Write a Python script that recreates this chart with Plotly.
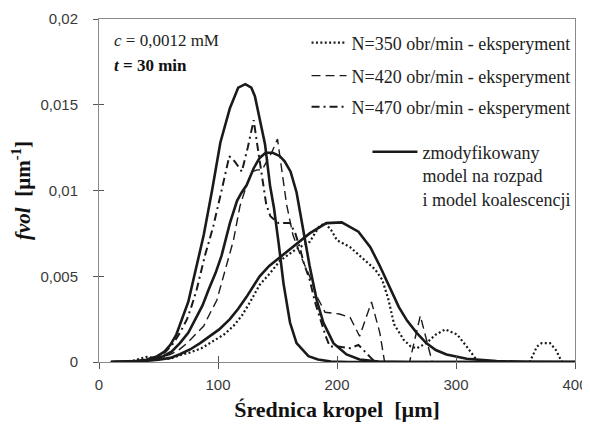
import plotly.graph_objects as go

# ---------------- data ----------------
x_ticks = [0, 100, 200, 300, 400]
x_tick_labels = ["0", "100", "200", "300", "400"]
y_ticks = [0, 0.005, 0.01, 0.015, 0.02]
y_tick_labels = ["0", "0,005", "0,01", "0,015", "0,02"]

# experiment N=350 (dotted)
exp350_x = [10, 20, 30, 40, 50, 60, 68, 76, 86, 96, 105, 113, 120, 127, 135, 144, 152, 166, 177,
            185, 190, 195, 200, 211, 222, 232, 238, 243, 248, 256, 262, 267, 275, 283, 291, 301,
            309, 317, 320, 362, 368, 372, 379, 384, 389, 400]
exp350_y = [0, 0.00001, 0.0001, 0.0003, 0.0002, 0.0002, 0.0004, 0.00054, 0.0008, 0.0012, 0.0016,
            0.0021, 0.0027, 0.0035, 0.0045, 0.0052, 0.0059, 0.0066, 0.0070, 0.0079, 0.0081, 0.0077,
            0.0071, 0.0067, 0.0060, 0.0054, 0.0048, 0.0037, 0.0022, 0.0013, 0.0009, 0.0008, 0.0011,
            0.0016, 0.0019, 0.0016, 0.0009, 0.00015, 0, 0, 0.0009, 0.0011, 0.0011, 0.0007, 0, 0]

# experiment N=420 (dashed)
exp420_x = [10, 25, 35, 45, 52, 60, 67, 74, 81, 88, 93, 99, 103, 107, 113, 118.5, 124, 129, 133,
            137, 141, 145, 150, 153.5, 157.6, 163, 170, 177, 184, 190, 202, 211, 219, 229, 236, 240,
            261, 270, 280, 400]
exp420_y = [0, 0.00002, 0.00005, 0.00012, 0.00025, 0.00044, 0.0007, 0.0011, 0.0016, 0.0021, 0.0028,
            0.0036, 0.0046, 0.0056, 0.0071, 0.0091, 0.0103, 0.0111, 0.0112, 0.0112, 0.0117, 0.0122,
            0.0130, 0.0113, 0.0092, 0.0074, 0.0061, 0.0050, 0.0037, 0.0029, 0.0028, 0.0026, 0.0015,
            0.0035, 0.0017, 0, 0, 0.0027, 0, 0]

# experiment N=470 (dash-dot)
exp470_x = [10, 25, 35, 43, 50, 56, 62.5, 68, 74, 78, 82, 89, 96, 103, 109.5, 114, 120, 125, 130,
            132.5, 135, 138, 140.5, 144, 150.7, 160.5, 165, 169, 172, 177, 181.5, 186, 190.5, 194,
            201, 211, 218, 227.7, 232, 400]
exp470_y = [0, 0.00002, 0.00008, 0.0002, 0.00034, 0.0006, 0.0011, 0.0017, 0.0025, 0.0033, 0.0042,
            0.0062, 0.0079, 0.0100, 0.0120, 0.0117, 0.0111, 0.0125, 0.0141, 0.0129, 0.0117, 0.0103,
            0.0092, 0.0085, 0.0081, 0.0081, 0.0075, 0.0066, 0.0058, 0.0048, 0.0035, 0.0025, 0.0015,
            0.0009, 0.0009, 0.0008, 0.0010, 0.0003, 0, 0]

# model curves (solid)
modelA_x = [10, 20, 30, 40, 48, 55, 60, 65, 70, 75, 80, 88, 95, 102, 110, 117, 123, 128, 131, 135,
            139.5, 143.7, 147, 151, 155, 160.5, 166, 176, 184, 195, 210, 300, 400]
modelA_y = [0, 0.00001, 0.00004, 0.00013, 0.0003, 0.0006, 0.0010, 0.0016, 0.0025, 0.0035, 0.0050,
            0.0074, 0.0100, 0.0128, 0.0148, 0.0160, 0.0162, 0.0160, 0.0155, 0.0142, 0.0127, 0.0103,
            0.0090, 0.0069, 0.0046, 0.0023, 0.0011, 0.00034, 0.00015, 0.00003, 0, 0, 0]

modelB_x = [10, 20, 30, 40, 47, 54, 61, 68, 75, 81, 87, 92, 98, 103, 110, 116, 120, 124, 130, 135,
            140, 146, 152, 156, 161, 166, 172, 177, 183, 188.5, 197, 208, 219, 235, 260, 400]
modelB_y = [0, 0.00001, 0.00003, 0.0001, 0.0002, 0.00034, 0.0006, 0.0011, 0.0017, 0.0025, 0.0033,
            0.0042, 0.0052, 0.0062, 0.0081, 0.0094, 0.0099, 0.0103, 0.0113, 0.0119, 0.0122, 0.0122,
            0.0120, 0.0117, 0.0111, 0.0099, 0.0075, 0.0056, 0.0036, 0.0023, 0.0011, 0.00044,
            0.00015, 0.00003, 0, 0]

modelC_x = [10, 20, 30, 40, 50, 60, 68, 76.5, 85, 93, 101, 110, 117, 124, 130, 135, 143, 152, 165,
            177, 191, 204, 218, 228, 236, 244.5, 252, 259, 267, 275, 283, 292, 309, 334, 360, 400]
modelC_y = [0, 0.00001, 0.00003, 0.00007, 0.00013, 0.00024, 0.00045, 0.00073, 0.0011, 0.0015,
            0.0019, 0.0025, 0.0031, 0.0038, 0.0045, 0.0050, 0.0056, 0.0061, 0.0068, 0.0075, 0.0081,
            0.00814, 0.0076, 0.0067, 0.0056, 0.0043, 0.0032, 0.0024, 0.0017, 0.0011, 0.0007,
            0.00044, 0.00019, 0.00005, 0.00001, 0]

legend_names = [
    "N=350 obr/min - eksperyment",
    "N=420 obr/min - eksperyment",
    "N=470 obr/min - eksperyment",
    "zmodyfikowany<br>model na rozpad<br>i model koalescencji",
]

# ---------------- styles ----------------
INK = "#1a1a1a"
SERIF = "Liberation Serif"
SANS = "Liberation Sans"

fig = go.Figure()

fig.add_trace(go.Scatter(x=exp350_x, y=exp350_y, mode="lines", name=legend_names[0],
                         line=dict(color=INK, width=2.2, dash="2px,2.4px"), legend="legend"))
fig.add_trace(go.Scatter(x=exp420_x, y=exp420_y, mode="lines", name=legend_names[1],
                         line=dict(color=INK, width=1.4, dash="9px,5px"), legend="legend2"))
fig.add_trace(go.Scatter(x=exp470_x, y=exp470_y, mode="lines", name=legend_names[2],
                         line=dict(color=INK, width=2, dash="8px,4px,2px,4px"), legend="legend3"))
for i, (mx, my) in enumerate([(modelA_x, modelA_y), (modelB_x, modelB_y), (modelC_x, modelC_y)]):
    fig.add_trace(go.Scatter(x=mx, y=my, mode="lines", name=legend_names[3],
                             line=dict(color=INK, width=2.6), legend="legend4",
                             showlegend=(i == 0), legendgroup="model"))

# invisible trace for overlay axes (inner half of crossing ticks)
fig.add_trace(go.Scatter(x=[None], y=[None], xaxis="x2", yaxis="y2", showlegend=False,
                         hoverinfo="skip"))

AX = "#8a8a8a"
TICKC = "#555555"
tickfont = dict(family=SANS, size=15, color="#3a3a3a")

# the page body adds an 8px offset, so margins are shifted by 8px
fig.update_layout(
    width=590, height=426,
    margin=dict(l=91, r=23, t=11, b=72, autoexpand=False),
    paper_bgcolor="white", plot_bgcolor="white",
    separators=", ",
    xaxis=dict(range=[0, 400], tickvals=x_ticks, ticktext=x_tick_labels, showgrid=False,
               zeroline=False, showline=True, linecolor=AX, linewidth=1, mirror=True,
               ticks="outside", ticklen=6, tickcolor=TICKC, tickfont=tickfont,
               ticklabelstandoff=3, automargin=False,
               title=dict(text="<b>Średnica kropel  [µm]</b>",
                          font=dict(family=SERIF, size=22, color="#111"), standoff=9)),
    yaxis=dict(range=[0, 0.02], tickvals=y_ticks, ticktext=y_tick_labels, showgrid=False,
               zeroline=False, showline=True, linecolor=AX, linewidth=1, mirror=True,
               ticks="outside", ticklen=5, tickcolor=TICKC, tickfont=tickfont,
               ticklabelstandoff=12, automargin=False,
               title=dict(text="<b><i>fvol</i>  [µm<sup>-1</sup>]</b>",
                          font=dict(family=SERIF, size=21, color="#111"), standoff=7)),
    xaxis2=dict(range=[0, 400], overlaying="x", anchor="y2", tickvals=x_ticks,
                showticklabels=False, ticks="inside", ticklen=6, tickcolor=TICKC,
                showgrid=False, zeroline=False, showline=False, automargin=False),
    yaxis2=dict(range=[0, 0.02], overlaying="y", anchor="x2", tickvals=y_ticks,
                showticklabels=False, ticks="inside", ticklen=5, tickcolor=TICKC,
                showgrid=False, zeroline=False, showline=False, automargin=False),
    showlegend=True,
)

legfont = dict(family=SERIF, size=18, color="#222")
common = dict(bgcolor="rgba(0,0,0,0)", borderwidth=0, font=legfont, xanchor="left")
fig.update_layout(
    legend=dict(x=0.436, y=0.930, yanchor="middle", itemwidth=35, **common),
    legend2=dict(x=0.436, y=0.834, yanchor="middle", itemwidth=35, **common),
    legend3=dict(x=0.436, y=0.743, yanchor="middle", itemwidth=35, **common),
    legend4=dict(x=0.564, y=0.666, yanchor="top", valign="top", itemwidth=45, **common),
)

fig.add_annotation(text="<i>c</i> = 0,0012 mM", xref="paper", yref="paper", x=0.027, y=0.937,
                   xanchor="left", yanchor="middle", showarrow=False,
                   font=dict(family=SERIF, size=17, color="#222"))
fig.add_annotation(text="<b><i>t</i> = 30 min</b>", xref="paper", yref="paper", x=0.027, y=0.864,
                   xanchor="left", yanchor="middle", showarrow=False,
                   font=dict(family=SERIF, size=17, color="#111"))

fig.write_html("out.html")
